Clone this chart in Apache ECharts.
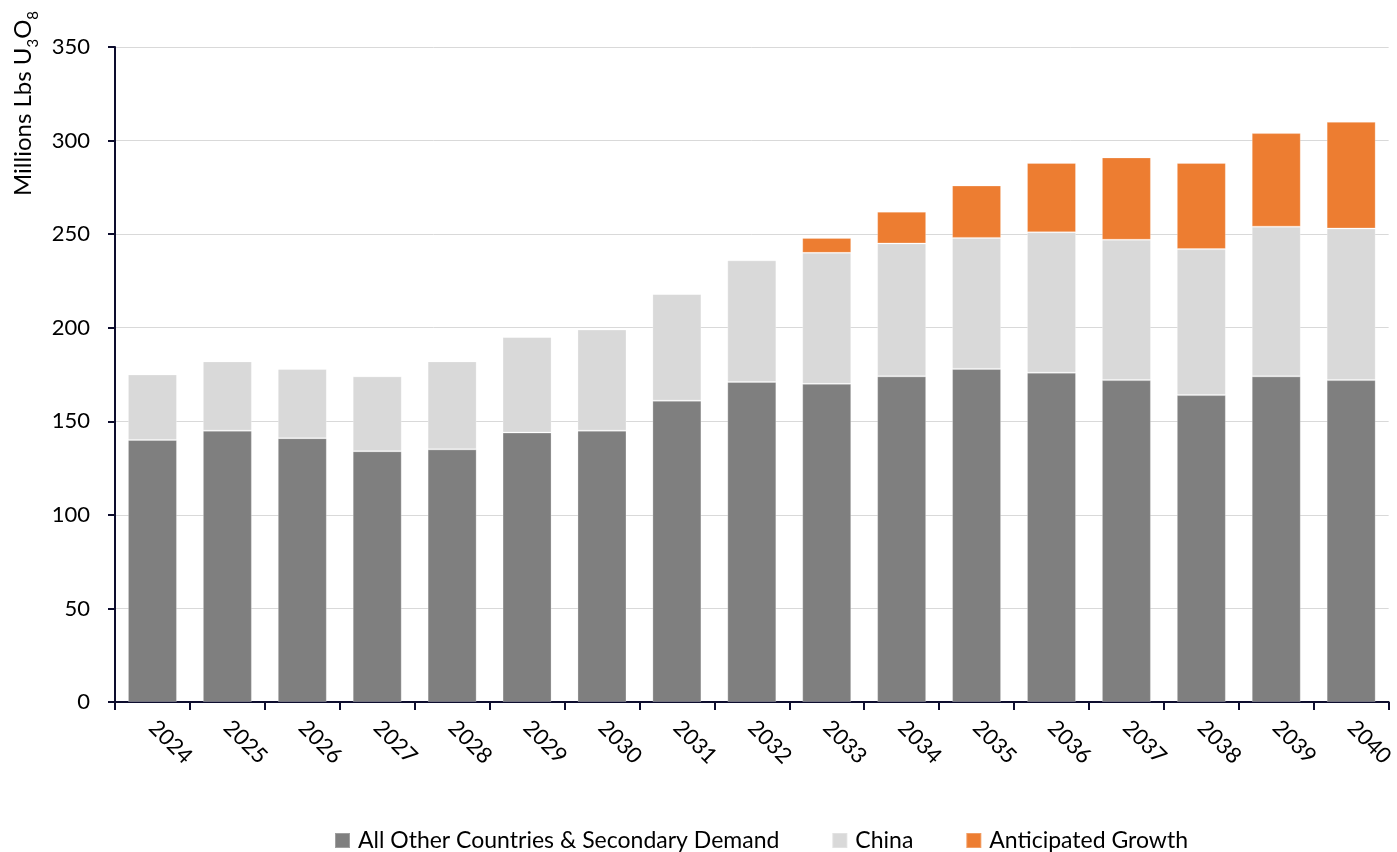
<!DOCTYPE html>
<html>
<head>
<meta charset="utf-8">
<title>Uranium demand</title>
<script src="https://cdn.jsdelivr.net/npm/echarts@6/dist/echarts.min.js"></script>
<style>
  html, body { margin: 0; padding: 0; background: #fff; }
  #chart { width: 1397px; height: 852px; }
</style>
</head>
<body>
<div id="chart"></div>
<script>
var years = ['2024', '2025', '2026', '2027', '2028', '2029', '2030', '2031', '2032',
  '2033', '2034', '2035', '2036', '2037', '2038', '2039', '2040'];
// stacked pieces, millions lbs U3O8
var otherDemand = [140, 145, 141, 134, 135, 144, 145, 161, 171, 170, 174, 178, 176, 172, 164, 174, 172];
var china = [35, 37, 37, 40, 47, 51, 54, 57, 65, 70, 71, 70, 75, 75, 78, 80, 81];
var growth = [0, 0, 0, 0, 0, 0, 0, 0, 0, 8, 17, 28, 37, 44, 46, 50, 57];
var yTicks = { min: 0, max: 350, step: 50 };

var font = 'Lato, "Open Sans", sans-serif';
var axisColor = '#0d0d2e';

var chart = echarts.init(document.getElementById('chart'));

function bar(name, data, color) {
  return {
    name: name,
    type: 'bar',
    stack: 'total',
    barWidth: 49,
    data: data,
    itemStyle: { color: color, borderColor: 'rgba(255,255,255,0.25)', borderWidth: 1 },
    emphasis: { disabled: true }
  };
}

chart.setOption({
  animation: false,
  textStyle: { fontFamily: font },
  grid: { left: 115, right: 3, top: 47, bottom: 150 },
  legend: {
    left: 329,
    top: 824,
    itemWidth: 15,
    itemHeight: 15,
    itemGap: 52,
    icon: 'rect',
    textStyle: { fontSize: 23, color: '#000', fontFamily: font, padding: [0, 0, 0, 3] },
    data: ['All Other Countries & Secondary Demand', 'China', 'Anticipated Growth']
  },
  xAxis: {
    type: 'category',
    data: years,
    axisLine: { lineStyle: { color: axisColor, width: 2 } },
    axisTick: { show: true, length: 8, lineStyle: { color: axisColor, width: 2 } },
    axisLabel: { rotate: -45, margin: 22, fontSize: 22, color: '#000', fontFamily: font }
  },
  yAxis: {
    type: 'value',
    min: yTicks.min,
    max: yTicks.max,
    interval: yTicks.step,
    axisLine: { show: true, lineStyle: { color: axisColor, width: 2 } },
    axisTick: { show: true, length: 7, lineStyle: { color: axisColor, width: 2 } },
    axisLabel: { fontSize: 22, color: '#000', margin: 25, fontFamily: font },
    splitLine: { lineStyle: { color: '#d9d9d9', width: 1 } }
  },
  graphic: [{
    type: 'text',
    x: 11,
    y: 196,
    rotation: Math.PI / 2,
    style: {
      text: '{a|Millions Lbs U}{s|3}{a|O}{s|8}',
      fill: '#000',
      rich: {
        a: { fontSize: 24, fontFamily: font, verticalAlign: 'top', lineHeight: 30 },
        s: { fontSize: 15, fontFamily: font, verticalAlign: 'bottom', lineHeight: 30, padding: [14, 0, 0, 0] }
      }
    }
  }],
  series: [
    bar('All Other Countries & Secondary Demand', otherDemand, '#7f7f7f'),
    bar('China', china, '#d9d9d9'),
    bar('Anticipated Growth', growth, '#ed7d31')
  ]
});
</script>
</body>
</html>
